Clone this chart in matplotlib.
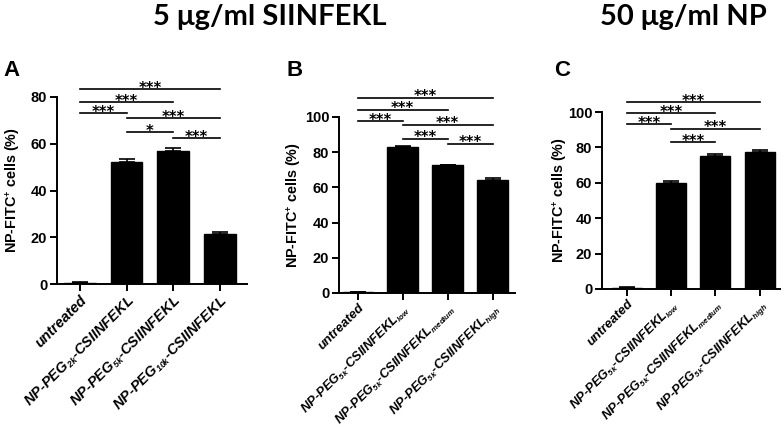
import matplotlib
matplotlib.use("Agg")
import matplotlib.pyplot as plt
import matplotlib._mathtext as _mt

_mt.SHRINK_FACTOR = 0.6  # smaller subscripts, like the reference

plt.rcParams['font.family'] = ['Liberation Sans', 'DejaVu Sans']
plt.rcParams['font.weight'] = 'bold'
plt.rcParams['mathtext.fontset'] = 'custom'
plt.rcParams['mathtext.rm'] = 'Liberation Sans:italic'
plt.rcParams['mathtext.it'] = 'Liberation Sans:italic'

# ---- data ----
labels_a = ["untreated",
            r"NP-PEG$_{\mathrm{2k}}$-CSIINFEKL",
            r"NP-PEG$_{\mathrm{5k}}$-CSIINFEKL",
            r"NP-PEG$_{\mathrm{10k}}$-CSIINFEKL"]
values_a = [0.5, 52.0, 57.0, 21.2]
errors_a = [0.3, 1.3, 1.0, 1.1]
sig_a = [(0, 3, 83.3, "***"), (0, 2, 77.8, "***"), (0, 1, 73.0, "***"),
         (1, 3, 71.0, "***"), (1, 2, 65.0, "*"), (2, 3, 62.4, "***")]

labels_b = ["untreated",
            r"NP-PEG$_{\mathrm{5k}}$-CSIINFEKL$_{\mathrm{low}}$",
            r"NP-PEG$_{\mathrm{5k}}$-CSIINFEKL$_{\mathrm{medium}}$",
            r"NP-PEG$_{\mathrm{5k}}$-CSIINFEKL$_{\mathrm{high}}$"]
values_b = [0.5, 82.8, 72.5, 64.3]
errors_b = [0.3, 0.5, 0.5, 1.0]
sig_b = [(0, 3, 110.8, "***"), (0, 2, 104.0, "***"), (0, 1, 97.7, "***"),
         (1, 3, 95.5, "***"), (1, 2, 87.5, "***"), (2, 3, 84.7, "***")]

labels_c = labels_b
values_c = [0.5, 59.8, 75.0, 77.5]
errors_c = [0.4, 1.2, 1.0, 1.0]
sig_c = [(0, 3, 105.6, "***"), (0, 2, 99.4, "***"), (0, 1, 93.2, "***"),
         (1, 3, 90.4, "***"), (1, 2, 83.0, "***")]

W, H = 784, 432
fig = plt.figure(figsize=(W / 100, H / 100), dpi=100)


def px_axes(left, right, bottom, top):
    return fig.add_axes([left / W, 1 - bottom / H, (right - left) / W, (bottom - top) / H])


def draw(ax, labels, values, errors, sig, ymax, xlim, letter, letter_xy, ylab_x, xfs):
    x = list(range(len(values)))
    ax.bar(x, values, width=0.68, color='black', edgecolor='black')
    ax.errorbar(x, values, yerr=[[0] * len(errors), errors], fmt='none',
                ecolor='black', elinewidth=1.2, capsize=6, capthick=1.2)
    ax.set_xlim(*xlim)
    ax.set_ylim(0, ymax)
    ax.set_yticks(range(0, ymax + 1, 20))
    ax.spines['top'].set_visible(False)
    ax.spines['right'].set_visible(False)
    for s in ('left', 'bottom'):
        ax.spines[s].set_linewidth(1.4)
    ax.tick_params(axis='both', width=1.4, length=5, labelsize=10.5, pad=2)
    for t in ax.get_yticklabels():
        t.set_fontweight('bold')
    ax.set_xticks(x)
    ax.set_xticklabels(labels, rotation=45, ha='right', rotation_mode='anchor',
                       fontsize=xfs, fontweight='bold', fontstyle='italic')
    ax.tick_params(axis='x', pad=1.5)
    ax.set_ylabel("NP-FITC$^{+}$ cells (%)", fontsize=10.4, fontweight='bold')
    ax.yaxis.set_label_coords(ylab_x, 0.5)
    for i, j, y, s in sig:
        ax.plot([i, j], [y, y], color='black', lw=1.2, clip_on=False)
        ax.annotate(s, xy=((i + j) / 2, y), xytext=(0, -2.5), textcoords='offset points',
                    ha='center', va='baseline', fontsize=10.5, fontweight='bold',
                    family='DejaVu Sans', annotation_clip=False)
    fig.text(letter_xy[0] / W, 1 - letter_xy[1] / H, letter, fontsize=16,
             fontweight='bold', ha='center', va='center')


ax_a = px_axes(57, 247, 284, 97)
draw(ax_a, labels_a, values_a, errors_a, sig_a, 80, (-0.49, 3.58), "A", (12, 70), -0.18, 10.5)
ax_b = px_axes(339, 515, 293, 117)
draw(ax_b, labels_b, values_b, errors_b, sig_b, 100, (-0.42, 3.5), "B", (295, 70), -0.2, 9.4)
ax_c = px_axes(602, 780, 289, 112)
draw(ax_c, labels_c, values_c, errors_c, sig_c, 100, (-0.56, 3.46), "C", (562, 70), -0.18, 9.4)

fig.text(270 / W, 1 - 25 / H, "5 \u03bcg/ml SIINFEKL", fontsize=21, fontweight='bold',
         ha='center', va='baseline', family=['Lato', 'DejaVu Sans'])
fig.text(683 / W, 1 - 25 / H, "50 \u03bcg/ml NP", fontsize=21, fontweight='bold',
         ha='center', va='baseline', family=['Lato', 'DejaVu Sans'])

fig.savefig("out.png", dpi=100)
